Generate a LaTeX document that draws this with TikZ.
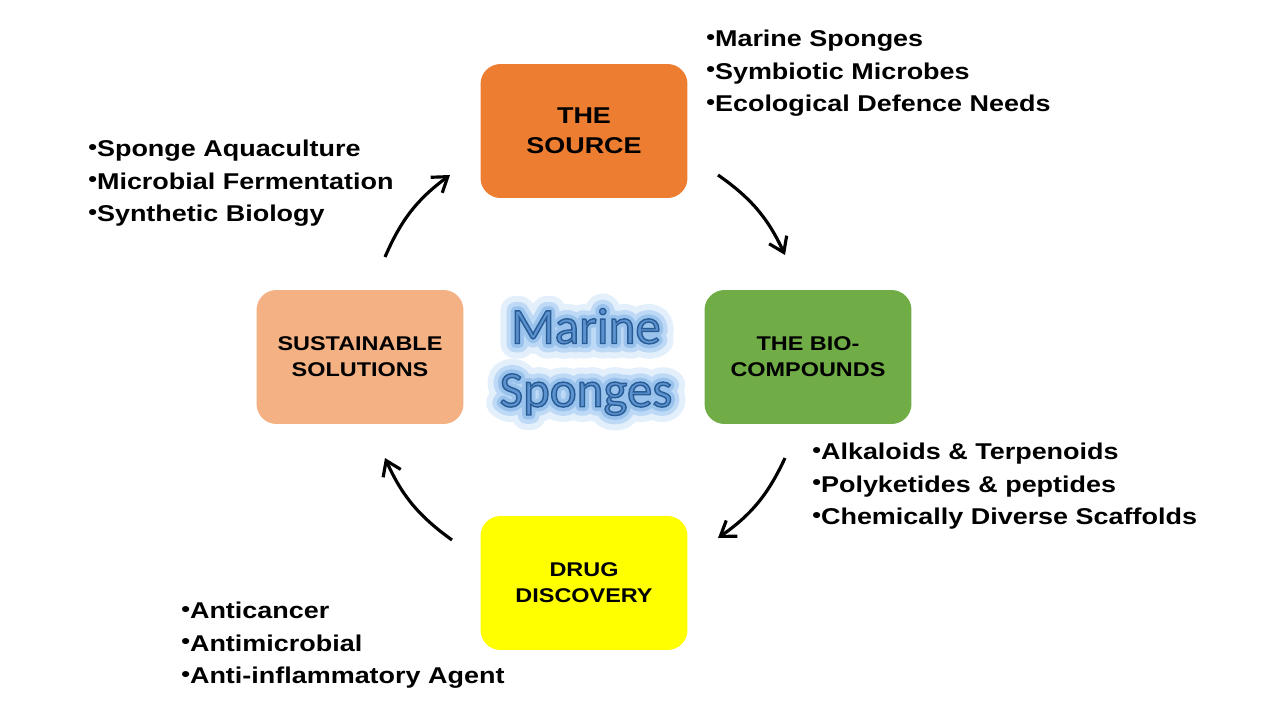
\documentclass[tikz,border=0pt]{standalone}
\usepackage{fontspec}
\setmainfont{Liberation Sans}[FakeStretch=1.18]
\newfontfamily\titlefont{Carlito}
\usetikzlibrary{arrows.meta}
\definecolor{srcc}{HTML}{ED7D31}
\definecolor{bioc}{HTML}{70AD47}
\definecolor{drugc}{HTML}{FFFF00}
\definecolor{sustc}{HTML}{F4B183}
\definecolor{titlec}{HTML}{5B92CF}
\newcommand\bul{\raisebox{0.1em}{\fontsize{12}{12}\selectfont•}}
% outlined title text (fill + dark blue stroke)
\newcommand\outlined[1]{\special{pdf:literal direct 2 Tr 0.8 w 0.16 0.36 0.58 RG}#1\special{pdf:literal direct 0 Tr}}
% stroked glow behind the title: width, stroke rgb, text
\newcommand\glowtext[3]{\special{pdf:literal direct 1 Tr 1 j #1 w #2 RG}#3\special{pdf:literal direct 0 Tr}}
\tikzset{
  stage/.style={rounded corners=0.4cm,minimum width=4.14cm,minimum height=2.68cm,
    align=center,inner sep=0pt,font=\bfseries\fontsize{11.3}{14.7}\selectfont},
  notes/.style={anchor=north west,align=left,inner sep=0pt,
    font=\bfseries\fontsize{13}{18.4}\selectfont},
  cyc/.style={line width=1.8pt,-{Straight Barb[length=8pt,width=11pt]}},
  headline/.style={align=center,inner sep=0pt,font=\titlefont\fontsize{29}{36}\selectfont},
}
\begin{document}
\begin{tikzpicture}[x=0.02cm,y=-0.02cm]
  \useasboundingbox (0,0) rectangle (1280,720);
  % ---------- stages ----------
  \node[stage,fill=srcc,font=\bfseries\fontsize{13}{17}\selectfont] (source) at (584,131) {THE\\SOURCE};
  \node[stage,fill=bioc] (bio) at (808,357) {THE BIO-\\COMPOUNDS};
  \node[stage,fill=drugc] (drug) at (584,583) {DRUG\\DISCOVERY};
  \node[stage,fill=sustc] (sust) at (360,357) {SUSTAINABLE\\SOLUTIONS};
  % ---------- centre title with soft glow ----------
  \node[headline] (titleglow) at (586,362)
    {\glowtext{17}{0.89 0.94 0.99}{Marine}\\\glowtext{17}{0.89 0.94 0.99}{Sponges}};
  \node[headline] (titlehalo) at (586,362)
    {\glowtext{10}{0.74 0.85 0.96}{Marine}\\\glowtext{10}{0.74 0.85 0.96}{Sponges}};
  \node[headline] (titlecore) at (586,362)
    {\glowtext{5}{0.60 0.76 0.93}{Marine}\\\glowtext{5}{0.60 0.76 0.93}{Sponges}};
  \node[headline,text=titlec] (title) at (586,362)
    {\outlined{Marine}\\\outlined{Sponges}};
  % ---------- notes ----------
  \node[notes] (srcnotes) at (706,30)
    {\bul Marine Sponges\\\bul Symbiotic Microbes\\\bul Ecological Defence Needs};
  \node[notes] (sustnotes) at (88,140)
    {\bul Sponge Aquaculture\\\bul Microbial Fermentation\\\bul Synthetic Biology};
  \node[notes] (bionotes) at (812,443)
    {\bul Alkaloids \& Terpenoids\\\bul Polyketides \& peptides\\\bul Chemically Diverse Scaffolds};
  \node[notes] (drugnotes) at (181,602)
    {\bul Anticancer\\\bul Antimicrobial\\\bul Anti-inflammatory Agent};
  % ---------- cycle arrows ----------
  \coordinate (a1s) at (718,175); \coordinate (a1e) at (785,255);
  \coordinate (a2s) at (785,458); \coordinate (a2e) at (718,538);
  \coordinate (a3s) at (452,540); \coordinate (a3e) at (385,458);
  \coordinate (a4s) at (385,257); \coordinate (a4e) at (450,175);
  \draw[cyc] (a1s) to[bend left=15] (a1e);
  \draw[cyc] (a2s) to[bend left=15] (a2e);
  \draw[cyc] (a3s) to[bend left=15] (a3e);
  \draw[cyc] (a4s) to[bend left=15] (a4e);
\end{tikzpicture}
\end{document}
